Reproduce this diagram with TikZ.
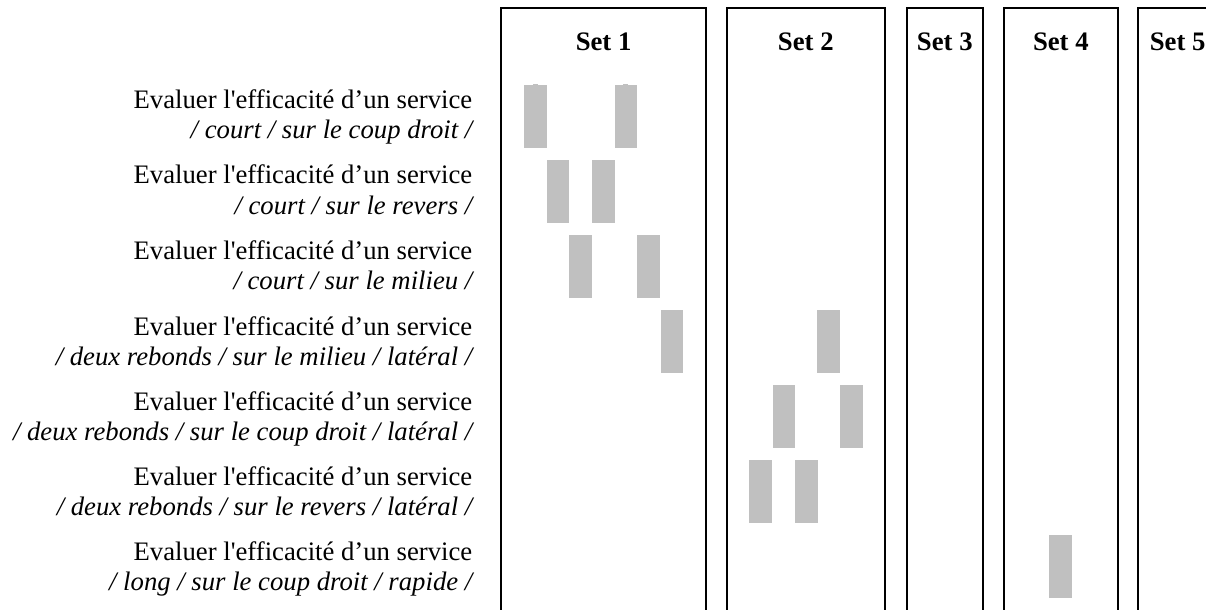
\documentclass[tikz,border=0pt]{standalone}
\usepackage{fontspec}
\newfontfamily\lab{Liberation Serif}[Ligatures=NoCommon]
\definecolor{barfill}{RGB}{192,192,192}
\tikzset{
  setbox/.style={draw=black,line width=1pt},
  barbox/.style={fill=barfill},
  settitle/.style={font={\lab\fontsize{13.35pt}{15pt}\selectfont\bfseries},anchor=base,inner sep=0pt},
  labup/.style={font={\lab\fontsize{13.35pt}{15pt}\selectfont},anchor=base east,inner sep=0pt},
  labdown/.style={font={\lab\fontsize{13.35pt}{15pt}\selectfont\itshape},anchor=base east,inner sep=0pt}
}
\newcommand{\mybar}[2]{\fill[barbox] (#1,#2) rectangle ++(22.75,62.7);}
\begin{document}
\begin{tikzpicture}[x=0.5pt,y=-0.5pt]
\useasboundingbox (0,0) rectangle (1206,610);
\fill[white] (0,0) rectangle (1206,610);
\clip (0,0) rectangle (1206,610);
% set boxes
\draw[setbox] (501.3,7.7) rectangle (706,625);
\draw[setbox] (726.7,7.7) rectangle (885,625);
\draw[setbox] (907,7.7) rectangle (982.7,625);
\draw[setbox] (1004,7.7) rectangle (1117.7,625);
\draw[setbox] (1138.3,7.7) rectangle (1216,625);
% titles
\node[settitle] (t1) at (603.6,50.5) {Set 1};
\node[settitle] (t2) at (805.8,50.5) {Set 2};
\node[settitle] (t3) at (944.8,50.5) {Set 3};
\node[settitle] (t4) at (1060.8,50.5) {Set 4};
\node[settitle] (t5) at (1177.6,50.5) {Set 5};
% labels
\node[labup] (r1a) at (472.7,109) {Evaluer l'efficacité d’un service};
\node[labdown] (r1b) at (472.7,139) {/ court / sur le coup droit /};
\node[labup] (r2a) at (472.7,184) {Evaluer l'efficacité d’un service};
\node[labdown] (r2b) at (472.7,214) {/ court / sur le revers /};
\node[labup] (r3a) at (472.7,259) {Evaluer l'efficacité d’un service};
\node[labdown] (r3b) at (472.7,289) {/ court / sur le milieu /};
\node[labup] (r4a) at (472.7,335) {Evaluer l'efficacité d’un service};
\node[labdown] (r4b) at (472.7,365) {/ deux rebonds / sur le milieu / latéral /};
\node[labup] (r5a) at (472.7,410) {Evaluer l'efficacité d’un service};
\node[labdown] (r5b) at (472.7,440) {/ deux rebonds / sur le coup droit / latéral /};
\node[labup] (r6a) at (472.7,485) {Evaluer l'efficacité d’un service};
\node[labdown] (r6b) at (472.7,515) {/ deux rebonds / sur le revers / latéral /};
\node[labup] (r7a) at (472.7,560) {Evaluer l'efficacité d’un service};
\node[labdown] (r7b) at (472.7,590) {/ long / sur le coup droit / rapide /};
% bars
\mybar{524}{85}
\mybar{614.5}{85}
\fill[barbox] (532.8,84) rectangle (538,85.2);
\fill[barbox] (623.2,84) rectangle (628.4,85.2);
\mybar{546.7}{160}
\mybar{592}{160}
\mybar{569.4}{235}
\mybar{637.3}{235}
\mybar{660.5}{310}
\mybar{817.3}{310}
\mybar{772.6}{385}
\mybar{840.1}{385}
\mybar{749.4}{460}
\mybar{795.4}{460}
\mybar{1048.9}{535}
\end{tikzpicture}
\end{document}
